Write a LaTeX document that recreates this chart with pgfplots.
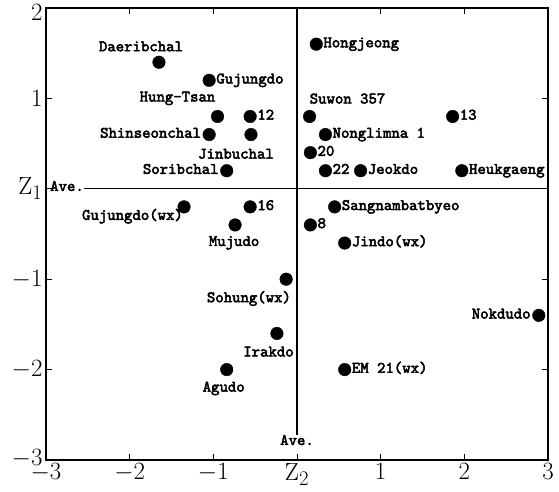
\documentclass[border=0pt]{standalone}
\usepackage{fontspec}
\usepackage{pgfplots}
\usepackage{pgfplotstable}
\pgfplotsset{compat=1.18}
\newfontfamily\labfont[FakeBold=3]{lmmono10-regular.otf}
\pgfplotstableread{
x y
-1.65 1.40
-1.05 1.20
-0.95 0.80
-0.56 0.80
-1.05 0.60
-0.55 0.60
-0.84 0.20
0.23 1.60
0.15 0.80
1.86 0.80
0.34 0.60
0.16 0.40
0.34 0.20
0.76 0.20
1.97 0.20
0.45 -0.20
0.16 -0.40
0.57 -0.60
-1.35 -0.20
-0.56 -0.20
-0.74 -0.40
-0.13 -1.00
-0.24 -1.60
-0.84 -2.00
0.57 -2.00
2.89 -1.40
}\pts
\begin{document}
\begin{tikzpicture}[
  lab/.style={inner sep=0pt, font=\labfont\fontsize{16}{16}\selectfont},
  R/.style={lab, anchor=mid west, xshift=7pt, yshift=-1pt},
  L/.style={lab, anchor=mid east, xshift=-8pt, yshift=-1pt},
]
\begin{axis}[
  scale only axis,
  width=502pt, height=452pt,
  xmin=-3, xmax=3, ymin=-3, ymax=2,
  clip=false,
  axis line style={line width=1.3pt},
  xtick={-3,-2,-1,0,1,2,3},
  xticklabels={$-3$,$-2$,$-1$,$\mathrm{Z}_2$,$1$,$2$,$3$},
  ytick={-3,-2,-1,0,1,2},
  yticklabels={\smash{\raisebox{-5.25pt}{$-3$}},$-2$,$-1$,$\mathrm{Z}_1$,$1$,\smash{\raisebox{-12.25pt}{$2$}}},
  tick align=inside,
  major tick length=6pt,
  tick style={line width=1pt, black},
  tick label style={font=\fontsize{24.88}{25}\selectfont},
  xticklabel style={yshift=0pt},
]
\addplot[black, line width=1.1pt] coordinates {(-2.545,0) (3,0)};
\addplot[black, line width=1.1pt] coordinates {(0,-2.72) (0,2)};
\addplot[only marks, mark=*, mark size=6.3pt, black] table[x=x, y=y] {\pts};
\node[lab, anchor=base, xshift=-18pt, yshift=11pt] at (axis cs:-1.65,1.40) {Daeribchal};
\node[R] at (axis cs:-1.05,1.20) {Gujungdo};
\node[lab, anchor=base east, xshift=-2pt, yshift=15pt] at (axis cs:-0.95,0.80) {Hung-Tsan};
\node[R] at (axis cs:-0.56,0.80) {12};
\node[L] at (axis cs:-1.05,0.60) {Shinseonchal};
\node[lab, anchor=base, xshift=-15pt, yshift=-24pt] at (axis cs:-0.55,0.60) {Jinbuchal};
\node[L] at (axis cs:-0.84,0.20) {Soribchal};
\node[R] at (axis cs:0.23,1.60) {Hongjeong};
\node[lab, anchor=base west, yshift=13pt] at (axis cs:0.15,0.80) {Suwon 357};
\node[R] at (axis cs:1.86,0.80) {13};
\node[R] at (axis cs:0.34,0.60) {Nonglimna 1};
\node[R] at (axis cs:0.16,0.40) {20};
\node[R] at (axis cs:0.34,0.20) {22};
\node[R] at (axis cs:0.76,0.20) {Jeokdo};
\node[R] at (axis cs:1.97,0.20) {Heukgaeng};
\node[R] at (axis cs:0.45,-0.20) {Sangnambatbyeo};
\node[R] at (axis cs:0.16,-0.40) {8};
\node[R] at (axis cs:0.57,-0.60) {Jindo(wx)};
\node[lab, anchor=base east, xshift=-1pt, yshift=-13pt] at (axis cs:-1.35,-0.20) {Gujungdo(wx)};
\node[R] at (axis cs:-0.56,-0.20) {16};
\node[lab, anchor=base, xshift=-1pt, yshift=-21pt] at (axis cs:-0.74,-0.40) {Mujudo};
\node[lab, anchor=base east, xshift=5pt, yshift=-23pt] at (axis cs:-0.13,-1.00) {Sohung(wx)};
\node[lab, anchor=base east, xshift=17pt, yshift=-23pt] at (axis cs:-0.24,-1.60) {Irakdo};
\node[lab, anchor=base, xshift=-3pt, yshift=-22pt] at (axis cs:-0.84,-2.00) {Agudo};
\node[R] at (axis cs:0.57,-2.00) {EM 21(wx)};
\node[L] at (axis cs:2.89,-1.40) {Nokdudo};
\node[lab, anchor=mid west, xshift=4pt] at (axis cs:-3,0) {Ave.};
\node[lab, anchor=mid] at (axis cs:0,-2.81) {Ave.};
\end{axis}
\pgfresetboundingbox
\path[use as bounding box] ([shift={(-46pt,-31pt)}]current axis.south west) rectangle ([shift={(11pt,8pt)}]current axis.north east);
\end{tikzpicture}
\end{document}
